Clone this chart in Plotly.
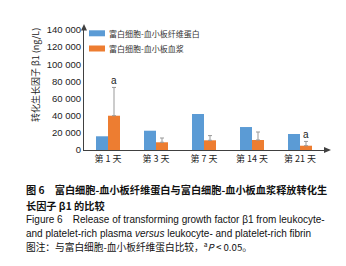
import plotly.graph_objects as go

categories = ["第 1 天", "第 3 天", "第 7 天", "第 14 天", "第 21 天"]
prf_values = [16000, 22500, 42000, 26800, 18700]      # 富白细胞-血小板纤维蛋白
prp_values = [40000, 9000, 11300, 11700, 5000]        # 富白细胞-血小板血浆
prp_err = [33000, 5000, 5500, 9300, 5000]
sig_marks = ["a", "", "", "", "a"]
y_ticks = [0, 20000, 40000, 60000, 80000, 100000, 120000, 140000]
y_ticktext = ["0", "20 000", "40 000", "60 000", "80 000", "100 000", "120 000", "140 000"]
series_names = ["富白细胞-血小板纤维蛋白", "富白细胞-血小板血浆"]

BLUE = "#5B9BD5"
ORANGE = "#ED7D31"
AXIS = "#404040"
CJK = "Noto Sans CJK SC"
LAT = "Liberation Sans, Arial"

W, H = 346, 266
L, R, T, B = 76, 30, 22, 124
PW = W - L - R
PH = H - T - B


def px_x(p):
    return (p - L) / PW


def px_y(p):
    return (T + PH - p) / PH


fig = go.Figure()
fig.add_trace(go.Bar(x=categories, y=prf_values, name=series_names[0],
                     marker=dict(color=BLUE, line=dict(width=0)), showlegend=False))
fig.add_trace(go.Bar(x=categories, y=prp_values, name=series_names[1],
                     marker=dict(color=ORANGE, line=dict(width=0)), showlegend=False,
                     error_y=dict(type="data", array=prp_err, arrayminus=[0] * len(prp_err),
                                  symmetric=False, color="#999999", thickness=1, width=2)))

annotations = []
for c, v, e, s in zip(categories, prp_values, prp_err, sig_marks):
    if s:
        annotations.append(dict(x=c, y=v + e, xref="x", yref="y", text=s, showarrow=False,
                                xshift=6, yanchor="bottom", yshift=-1,
                                font=dict(family=LAT, size=10, color="#222")))

# y axis title
annotations.append(dict(x=px_x(27), y=px_y(67), xref="paper", yref="paper",
                        text="转化生长因子 β1 (ng/L)", textangle=-90, showarrow=False,
                        xanchor="center", yanchor="middle",
                        font=dict(family=CJK, size=9, color="#222")))

shapes = []
# axis arrow heads
shapes.append(dict(type="path", xref="paper", yref="paper",
                   path="M {} {} L {} {} L {} {} Z".format(
                       px_x(73), px_y(22.5), px_x(76), px_y(16), px_x(79), px_y(22.5)),
                   fillcolor=AXIS, line=dict(width=0)))
shapes.append(dict(type="path", xref="paper", yref="paper",
                   path="M {} {} L {} {} L {} {} Z".format(
                       px_x(316), px_y(139), px_x(323), px_y(142), px_x(316), px_y(145)),
                   fillcolor=AXIS, line=dict(width=0)))
shapes.append(dict(type="line", xref="paper", yref="paper",
                   x0=px_x(316), x1=px_x(318), y0=0, y1=0, line=dict(color=AXIS, width=1)))

# legend (manual)
leg_y = [25.3, 40.5]
for name, col, yc in zip(series_names, [BLUE, ORANGE], leg_y):
    shapes.append(dict(type="rect", xref="paper", yref="paper",
                       x0=px_x(81), x1=px_x(97), y0=px_y(yc + 3), y1=px_y(yc - 3),
                       fillcolor=col, line=dict(width=0)))
    annotations.append(dict(x=px_x(99), y=px_y(yc), xref="paper", yref="paper", text=name,
                            showarrow=False, xanchor="left", yanchor="middle",
                            font=dict(family=CJK, size=8, color="#333")))

# captions
caps = [
    ("<b>图 6　富白细胞-血小板纤维蛋白与富白细胞-血小板血浆释放转化生</b>", 181.5, CJK, 10.2),
    ("<b>长因子 β1 的比较</b>", 197, CJK, 10.2),
    ("Figure 6　Release of transforming growth factor β1 from leukocyte-", 211.5, LAT, 10),
    ("and platelet-rich plasma <i>versus</i> leukocyte- and platelet-rich fibrin", 225, LAT, 10),
    ("图注：与富白细胞-血小板纤维蛋白比较，<sup>a</sup><i>P</i>\u00a0&lt;\u00a00.05。", 238.5, CJK, 9.7),
]
for txt, yc, fam, sz in caps:
    annotations.append(dict(x=px_x(16), y=px_y(yc), xref="paper", yref="paper", text=txt,
                            showarrow=False, xanchor="left", yanchor="middle", align="left",
                            font=dict(family=fam, size=sz, color="#111")))

fig.update_layout(
    width=W, height=H,
    margin=dict(l=L, r=R, t=T, b=B, pad=0),
    paper_bgcolor="white", plot_bgcolor="white",
    barmode="group", bargap=0.5, bargroupgap=0,
    xaxis=dict(showline=True, linecolor=AXIS, linewidth=1, ticks="", showgrid=False,
               zeroline=False, tickfont=dict(family=CJK, size=9, color="#222")),
    yaxis=dict(range=[0, 140000], tickvals=y_ticks, ticktext=y_ticktext, showline=True,
               linecolor=AXIS, linewidth=1, ticks="", showgrid=False, zeroline=False,
               tickfont=dict(family=LAT, size=9.5, color="#222")),
    annotations=annotations, shapes=shapes,
    showlegend=False,
)

fig.write_html("out.html")
